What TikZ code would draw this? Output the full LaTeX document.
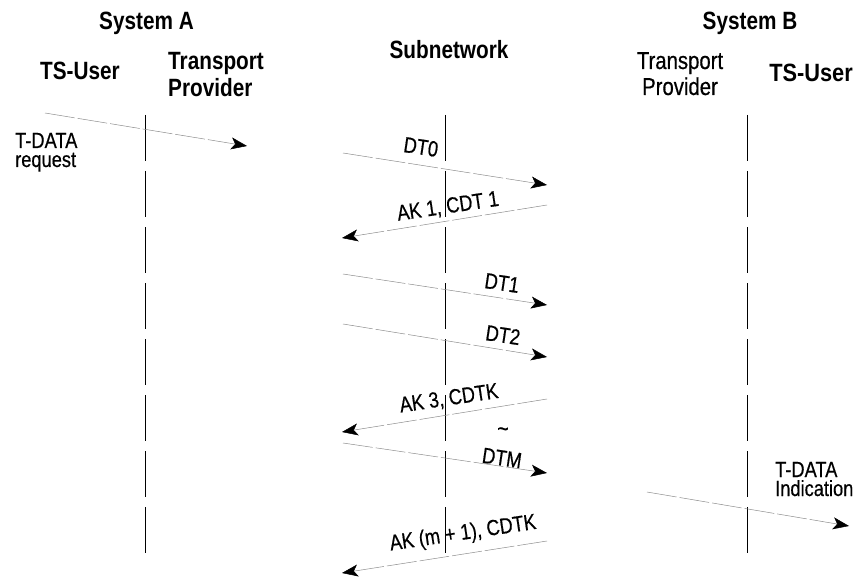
\documentclass[tikz,border=0pt]{standalone}
\usepackage{fontspec}
\setmainfont{Liberation Sans}[FakeStretch=0.83]
\newfontfamily\lblfam{Liberation Sans}[FakeStretch=0.83, UprightFeatures={FakeBold=0.5}]
\usetikzlibrary{arrows.meta}

\newcommand\hdrfont{\fontsize{25}{27}\selectfont\bfseries}
\newcommand\hdrlight{\lblfam\fontsize{24.5}{26}\selectfont}
\newcommand\msgfont{\lblfam\fontsize{22}{19}\selectfont}

\tikzset{
  lifeline/.style={line width=0.9pt, dash pattern=on 46pt off 10pt},
  msgline/.style={draw=black!45, line width=0.5pt, dash pattern=on 30pt off 3pt,
    -{Stealth[length=16pt, width=12pt, inset=4pt, color=black]}},
  header/.style={font=\hdrfont, inner sep=0pt},
  headerlight/.style={font=\hdrlight, inner sep=0pt},
  msglabel/.style={font=\msgfont, inner sep=0pt},
}

\begin{document}
\begin{tikzpicture}[x=1pt, y=-1pt]
\useasboundingbox (0,0) rectangle (853,580);

% headings
\node[header, anchor=base] (sysA) at (146.5,30) {System A};
\node[header, anchor=base] (sysB) at (750,30) {System B};
\node[header, anchor=base] (userA) at (80,80) {TS-User};
\node[header, anchor=base west, align=left] (provA) at (168,97) {Transport\\Provider};
\node[header, anchor=base] (subnet) at (449,59) {Subnetwork};
\node[headerlight, anchor=base, align=center] (provB) at (680,95) {Transport\\Provider};
\node[header, anchor=base east] (userB) at (853,82) {\scalebox{1.05}[1]{TS-User}};

% lifelines
\coordinate (lA) at (145,115);  \coordinate (lAend) at (145,557);
\coordinate (lN) at (445,115);  \coordinate (lNend) at (445,557);
\coordinate (lB) at (747,115);  \coordinate (lBend) at (747,557);
\draw[lifeline] (lA) -- (lAend);
\draw[lifeline] (lN) -- (lNend);
\draw[lifeline] (lB) -- (lBend);

% message end points
\coordinate (reqS) at (45,113);   \coordinate (reqE) at (247,146);
\coordinate (d0S) at (343,153);   \coordinate (d0E) at (547,185);
\coordinate (a1S) at (547,205);   \coordinate (a1E) at (342,238);
\coordinate (d1S) at (343,274);   \coordinate (d1E) at (547,305);
\coordinate (d2S) at (343,324);   \coordinate (d2E) at (547,357);
\coordinate (a3S) at (547,399);   \coordinate (a3E) at (342,432);
\coordinate (dmS) at (343,443);   \coordinate (dmE) at (547,473);
\coordinate (indS) at (647,492);  \coordinate (indE) at (849,526);
\coordinate (amS) at (547,541);   \coordinate (amE) at (342,573);

% messages
\draw[msgline] (reqS) -- (reqE);
\draw[msgline] (d0S) -- (d0E);
\draw[msgline] (a1S) -- (a1E);
\draw[msgline] (d1S) -- (d1E);
\draw[msgline] (d2S) -- (d2E);
\draw[msgline] (a3S) -- (a3E);
\draw[msgline] (dmS) -- (dmE);
\draw[msgline] (indS) -- (indE);
\draw[msgline] (amS) -- (amE);

% message labels
\node[msglabel, anchor=base west, align=left] (reqL) at (15,167) {T-DATA\\request};
\node[msglabel, rotate=-8.5] (d0L) at (421,147) {DT0};
\node[msglabel, rotate=8.5] (a1L) at (448,207) {AK 1, CDT 1};
\node[msglabel, rotate=-8.5] (d1L) at (502,283) {DT1};
\node[msglabel, rotate=-8.5] (d2L) at (503,335) {DT2};
\node[msglabel, rotate=8.5] (a3L) at (449,399) {AK 3, CDTK};
\node[msglabel, font=\lblfam\fontsize{24}{24}\selectfont] (tildeL) at (503,432) {\textasciitilde};
\node[msglabel, rotate=-8.5] (dmL) at (502,458) {DTM};
\node[msglabel, anchor=base west, align=left] (indL) at (775,496) {T-DATA\\Indication};
\node[msglabel, rotate=8.5] (amL) at (463,534) {AK (m + 1), CDTK};
\end{tikzpicture}
\end{document}
